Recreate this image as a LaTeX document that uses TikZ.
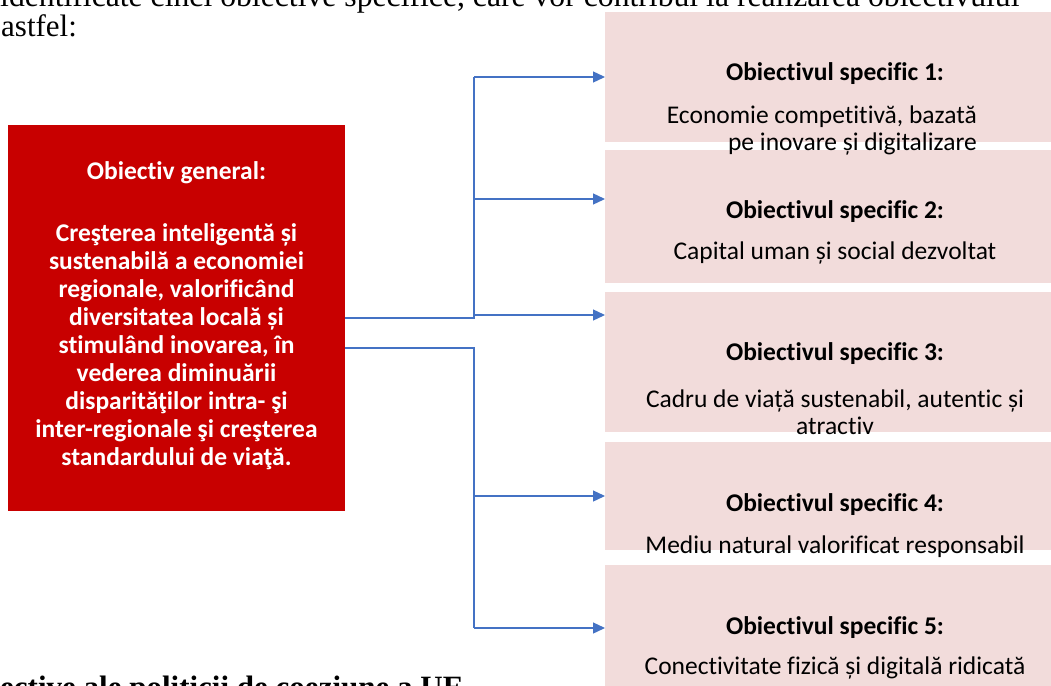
\documentclass[tikz,border=0pt]{standalone}
\usepackage{fontspec}
\setmainfont{Liberation Serif}
\newfontfamily\calfont[Ligatures=NoCommon]{Carlito}
\usetikzlibrary{arrows.meta}
\definecolor{genred}{RGB}{200,0,0}
\definecolor{spink}{RGB}{242,220,219}
\definecolor{conblue}{RGB}{68,114,196}
\begin{document}
\begin{tikzpicture}[x=1pt,y=-1pt,
  genbox/.style={fill=genred, draw=none, minimum width=337pt, minimum height=386pt, inner sep=0pt},
  gentext/.style={text=white, align=center, inner sep=0pt, font=\calfont\bfseries\fontsize{25.5}{28}\selectfont},
  specbox/.style={fill=spink, draw=none, minimum width=460pt, anchor=north west, inner sep=0pt},
  ttl/.style={inner sep=0pt, font=\calfont\bfseries\fontsize{25.5}{28}\selectfont},
  desc/.style={inner sep=0pt, font=\calfont\fontsize{25.5}{26.5}\selectfont, align=center},
  conn/.style={draw=conblue, line width=1.3pt},
  arr/.style={conn, -{Triangle[length=12pt,width=11pt]}},
  doc/.style={font=\fontsize{31}{31}\selectfont, anchor=base west, inner sep=0pt}
]
\useasboundingbox (0,0) rectangle (1051,685);
\clip (0,0) rectangle (1051,685);

% surrounding document text
\node[doc, font=\fontsize{31.7}{31.7}\selectfont] (docl1) at (0,7) {identificate cinci obiective specifice, care vor contribui la realizarea obiectivului};
\node[doc] (docl2) at (1,37) {astfel:};
\node[doc, font=\bfseries\fontsize{31}{31}\selectfont] (docl3) at (0,697) {ective ale politicii de coeziune a UE};

% general objective
\node[genbox] (gen) at (176.5,318) {};
\node[gentext] (gentxt) at (176.5,316) {Obiectiv general:\\[34pt]
Creşterea inteligentă și\\
sustenabilă a economiei\\
regionale, valorificând\\
diversitatea locală și\\
stimulând inovarea, în\\
vederea diminuării\\
disparităţilor intra- şi\\
inter-regionale şi creşterea\\
standardului de viaţă.};

% specific objective boxes
\node[specbox, minimum height=130pt] (b1) at (605,12) {};
\node[specbox, minimum height=133pt] (b2) at (605,150) {};
\node[specbox, minimum height=140pt] (b3) at (605,292) {};
\node[specbox, minimum height=108pt] (b4) at (605,442) {};
\node[specbox, minimum height=140pt] (b5) at (605,565) {};

\node[ttl] (t1) at (835,74) {Obiectivul specific 1:};
\node[desc, align=right, anchor=east] (d1) at (977,130.5) {Economie competitivă, bazată\\pe inovare și digitalizare};
\node[ttl] (t2) at (835,212) {Obiectivul specific 2:};
\node[desc] (d2) at (835,253) {Capital uman și social dezvoltat};
\node[ttl] (t3) at (835,354) {Obiectivul specific 3:};
\node[desc] (d3) at (835,412) {Cadru de viață sustenabil, autentic și\\atractiv};
\node[ttl] (t4) at (835,505) {Obiectivul specific 4:};
\node[desc] (d4) at (835,547) {Mediu natural valorificat responsabil};
\node[ttl] (t5) at (835,628) {Obiectivul specific 5:};
\node[desc] (d5) at (835,668) {Conectivitate fizică și digitală ridicată};

% connectors
\coordinate (j1) at (474,318);
\coordinate (a1) at (474,77);
\coordinate (a2) at (474,199);
\coordinate (a3) at (474,315);
\coordinate (j2) at (474,348);
\coordinate (a4) at (474,496);
\coordinate (a5) at (474,628);

\draw[conn] (gen.east |- j1) -- (j1) -- (a1);
\draw[conn] (gen.east |- j2) -- (j2) -- (a5);
\draw[arr] (a1) -- (a1 -| b1.west);
\draw[arr] (a2) -- (a2 -| b2.west);
\draw[arr] (a3) -- (a3 -| b3.west);
\draw[arr] (a4) -- (a4 -| b4.west);
\draw[arr] (a5) -- (a5 -| b5.west);
\end{tikzpicture}
\end{document}
